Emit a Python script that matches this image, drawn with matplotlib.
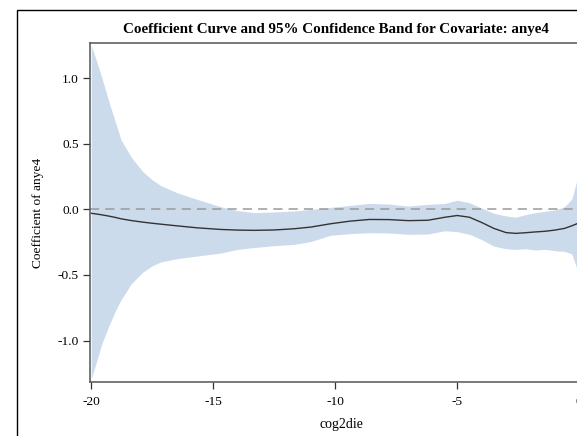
import numpy as np
import matplotlib
matplotlib.use("Agg")
import matplotlib.pyplot as plt
from matplotlib.patches import Rectangle

# values
cog2die = [-20, -19.8, -19.56, -19.26, -19.0, -18.78, -18.37, -17.9, -17.5, -17.14, -16.46,
           -15.64, -14.7, -14, -13.3, -12.5, -11.7, -11, -10.2, -9.4, -8.6, -7.8, -7, -6.2,
           -5.5, -5, -4.5, -4, -3.5, -3, -2.6, -2.2, -1.8, -1.4, -1, -0.6, -0.3, -0.1, 0]
coef = [-0.03, -0.035, -0.042, -0.052, -0.062, -0.072, -0.085, -0.097, -0.106, -0.113,
        -0.126, -0.141, -0.153, -0.158, -0.16, -0.157, -0.148, -0.135, -0.11, -0.09, -0.077,
        -0.078, -0.086, -0.083, -0.06, -0.047, -0.06, -0.1, -0.145, -0.177, -0.183, -0.178,
        -0.172, -0.167, -0.158, -0.145, -0.125, -0.11, -0.1]
upper = [1.25, 1.14, 1.0, 0.81, 0.66, 0.53, 0.4, 0.29, 0.225, 0.18, 0.125, 0.075, 0.02, -0.01,
         -0.025, -0.02, -0.013, 0.0, 0.015, 0.03, 0.045, 0.04, 0.025, 0.038, 0.045, 0.07, 0.05,
         0.01, -0.03, -0.05, -0.06, -0.04, -0.025, -0.015, -0.005, 0.02, 0.08, 0.22, 0.33]
lower = [-1.29, -1.17, -1.02, -0.88, -0.77, -0.69, -0.57, -0.48, -0.43, -0.40, -0.375, -0.355,
         -0.333, -0.305, -0.29, -0.277, -0.267, -0.245, -0.198, -0.185, -0.178, -0.18, -0.19,
         -0.188, -0.163, -0.17, -0.19, -0.23, -0.28, -0.3, -0.305, -0.3, -0.31, -0.305, -0.315,
         -0.32, -0.34, -0.45, -0.55]
xticks = [-20, -15, -10, -5, 0]
yticks = [-1.0, -0.5, 0.0, 0.5, 1.0]

plt.rcParams["font.family"] = ["Liberation Serif", "DejaVu Serif"]

W, H = 577, 436
fig = plt.figure(figsize=(W / 100, H / 100), dpi=100)

# outer frame (continues past the crop)
fig.patches.append(Rectangle((17 / W, -0.1), 1.2, (H - 10) / H + 0.1, transform=fig.transFigure,
                             fill=False, edgecolor="black", linewidth=1.0))

xmin, xmax = -20.05, 0.6
px_per_unit = 24.4
ax_w = (xmax - xmin) * px_per_unit
ax = fig.add_axes([90 / W, (H - 382) / H, ax_w / W, (382 - 43) / H])

x = np.array(cog2die)
ax.fill_between(x, lower, upper, color="#cbdbec", linewidth=0)
ax.axhline(0, color="#9a9a9a", linestyle=(0, (6, 4)), linewidth=1.1)
ax.plot(x, coef, color="#333333", linewidth=1.0)

ax.set_xlim(xmin, xmax)
ax.set_ylim(-1.315, 1.267)
ax.set_xticks(xticks)
ax.set_xticklabels(["%d" % v for v in xticks])
ax.set_yticks(yticks)
ax.set_yticklabels(["%.1f" % v for v in yticks])
ax.tick_params(axis="both", labelsize=9.6, length=5, width=0.9, color="#333333", pad=3)
ax.tick_params(axis="x", pad=5)
for s in ax.spines.values():
    s.set_color("#555555")
    s.set_linewidth(1.1)

ax.set_xlabel("cog2die", fontsize=10, labelpad=7)
ax.set_ylabel("Coefficient of anye4", fontsize=9.6, labelpad=10)
fig.text(336 / W, 1 - 29 / H, "Coefficient Curve and 95% Confidence Band for Covariate: anye4",
         ha="center", va="center", fontsize=10.8, fontweight="bold")

fig.savefig("out.png", dpi=100)
